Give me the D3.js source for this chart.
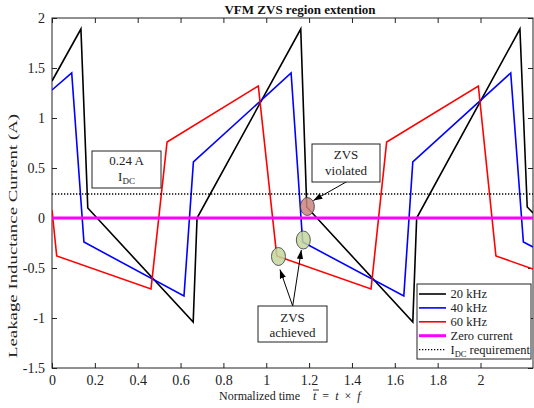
<!DOCTYPE html>
<html>
<head>
<meta charset="utf-8">
<script src="https://cdn.jsdelivr.net/npm/d3@7"></script>
<style>
  html, body { margin: 0; padding: 0; background: #fff; }
  svg { display: block; font-family: "Liberation Serif", "Times New Roman", serif; }
  svg text { font-family: "Liberation Serif", "Times New Roman", serif; }
</style>
</head>
<body>
<svg id="chart" width="534" height="408"></svg>
<script>
// ---- data ----
const xTicks = [0, 0.2, 0.4, 0.6, 0.8, 1, 1.2, 1.4, 1.6, 1.8, 2];
const xTickLabels = ["0", "0.2", "0.4", "0.6", "0.8", "1", "1.2", "1.4", "1.6", "1.8", "2"];
const yTicks = [-1.5, -1, -0.5, 0, 0.5, 1, 1.5, 2];
const yTickLabels = ["-1.5", "-1", "-0.5", "0", "0.5", "1", "1.5", "2"];

const t20 = [0, 0.135, 0.167, 0.659, 0.677, 1.161, 1.189, 1.684, 1.702, 2.184, 2.218, 2.245];
const i20 = [1.37, 1.89, 0.10, -1.04, 0.00, 1.89, 0.11, -1.04, 0.00, 1.89, 0.11, 0.05];

const t40 = [0, 0.092, 0.149, 0.616, 0.660, 1.116, 1.170, 1.642, 1.684, 2.141, 2.200, 2.245];
const i40 = [1.28, 1.45, -0.24, -0.78, 0.56, 1.45, -0.24, -0.78, 0.56, 1.45, -0.24, -0.29];

const t60 = [0, 0.022, 0.462, 0.537, 0.963, 1.049, 1.489, 1.562, 1.990, 2.072, 2.245];
const i60 = [0.08, -0.38, -0.71, 0.76, 1.32, -0.38, -0.71, 0.76, 1.32, -0.38, -0.51];

const zeroLevel = 0;
const idcLevel = 0.24;

const seriesNames = ["20 kHz", "40 kHz", "60 kHz", "Zero current", "I_DC requirement"];

// annotation markers (data coords)
const zvsAchieved = [[1.057, -0.385], [1.173, -0.22]];
const zvsViolated = [1.192, 0.115];

// ---- layout ----
const svg = d3.select("#chart");
const L = 52, R = 533, T = 18, B = 368;
const x = d3.scaleLinear().domain([0, 2.245]).range([L, R]);
const y = d3.scaleLinear().domain([-1.5, 2]).range([B, T]);

const defs = svg.append("defs");
defs.append("clipPath").attr("id", "clip")
  .append("rect").attr("x", L).attr("y", T).attr("width", R - L).attr("height", B - T);

// axes
const fs = "14px";
const xAxis = svg.append("g").attr("transform", `translate(0,${B})`)
  .call(d3.axisBottom(x).tickValues(xTicks).tickFormat((d, i) => xTickLabels[i]).tickSizeInner(-5).tickSizeOuter(0).tickPadding(7.5));
const yAxis = svg.append("g").attr("transform", `translate(${L},0)`)
  .call(d3.axisLeft(y).tickValues(yTicks).tickFormat((d, i) => yTickLabels[i]).tickSizeInner(-5).tickSizeOuter(0).tickPadding(7));
const xTop = svg.append("g").attr("transform", `translate(0,${T})`)
  .call(d3.axisTop(x).tickValues(xTicks).tickFormat("").tickSizeInner(-5).tickSizeOuter(0));
const yRight = svg.append("g").attr("transform", `translate(${R},0)`)
  .call(d3.axisRight(y).tickValues(yTicks).tickFormat("").tickSizeInner(-5).tickSizeOuter(0));
[xAxis, yAxis, xTop, yRight].forEach(g => {
  g.attr("font-family", null);
  g.select(".domain").remove();
  g.selectAll("line").attr("stroke", "#222");
  g.selectAll("text").attr("font-size", fs).attr("fill", "#222");
});
svg.append("rect").attr("x", L).attr("y", T).attr("width", R - L).attr("height", B - T)
  .attr("fill", "none").attr("stroke", "#222").attr("stroke-width", 1);

// lines
const line = d3.line().x(d => x(d[0])).y(d => y(d[1]));
const plot = svg.append("g").attr("clip-path", "url(#clip)");
const series = [
  { t: t20, v: i20, color: "#000000" },
  { t: t40, v: i40, color: "#0000ff" },
  { t: t60, v: i60, color: "#ff0000" }
];
series.forEach(s => {
  plot.append("path").datum(s.t.map((tt, i) => [tt, s.v[i]]))
    .attr("d", line).attr("fill", "none").attr("stroke", s.color).attr("stroke-width", 1.6)
    .attr("stroke-linejoin", "miter");
});
plot.append("path").datum([[0, zeroLevel], [2.245, zeroLevel]]).attr("d", line)
  .attr("stroke", "#ff00ff").attr("stroke-width", 3).attr("fill", "none");
plot.append("path").datum([[0, idcLevel], [2.245, idcLevel]]).attr("d", line)
  .attr("stroke", "#000").attr("stroke-width", 1.3).attr("stroke-dasharray", "1.3,1.7").attr("fill", "none");

// markers
zvsAchieved.forEach(p => {
  svg.append("ellipse").attr("cx", x(p[0])).attr("cy", y(p[1])).attr("rx", 7).attr("ry", 9)
    .attr("fill", "#c3d69b").attr("fill-opacity", 0.85).attr("stroke", "#333").attr("stroke-width", 0.8);
});
svg.append("ellipse").attr("cx", x(zvsViolated[0])).attr("cy", y(zvsViolated[1])).attr("rx", 7).attr("ry", 9)
  .attr("fill", "#c9857c").attr("fill-opacity", 0.85).attr("stroke", "#333").attr("stroke-width", 0.8);

// arrow marker
defs.append("marker").attr("id", "arr").attr("viewBox", "0 0 10 10")
  .attr("refX", 10).attr("refY", 5).attr("markerWidth", 9).attr("markerHeight", 9)
  .attr("markerUnits", "userSpaceOnUse").attr("orient", "auto")
  .append("path").attr("d", "M0,1.5 L10,5 L0,8.5 Z").attr("fill", "#000");

function arrow(x1, y1, x2, y2) {
  svg.append("line").attr("x1", x1).attr("y1", y1).attr("x2", x2).attr("y2", y2)
    .attr("stroke", "#000").attr("stroke-width", 1).attr("marker-end", "url(#arr)");
}
function box(x0, y0, w, h, lines) {
  svg.append("rect").attr("x", x0).attr("y", y0).attr("width", w).attr("height", h)
    .attr("fill", "#fff").attr("stroke", "#222").attr("stroke-width", 1);
  lines.forEach(l => {
    const t = svg.append("text").attr("x", x0 + w / 2).attr("y", l.y).attr("text-anchor", "middle")
      .attr("font-size", "13px").attr("fill", "#222");
    if (l.sub) {
      t.append("tspan").text(l.text);
      t.append("tspan").attr("font-size", "9px").attr("dy", 3).text(l.sub);
    } else t.text(l.text);
  });
}
// 0.24 A box
box(92, 151, 69, 37, [{ text: "0.24 A", y: 165 }, { text: "I", sub: "DC", y: 181 }]);
// ZVS violated
arrow(347, 181.5, x(zvsViolated[0]) + 6, y(zvsViolated[1]) - 6);
box(312, 144, 68, 38, [{ text: "ZVS", y: 159 }, { text: "violated", y: 175 }]);
// ZVS achieved
arrow(292.7, 306, x(zvsAchieved[0][0]) + 1.5, y(zvsAchieved[0][1]) + 13);
arrow(292.7, 306, x(zvsAchieved[1][0]) - 2, y(zvsAchieved[1][1]) + 10);
box(258, 306, 69, 36, [{ text: "ZVS", y: 321.5 }, { text: "achieved", y: 337 }]);

// legend
const lg = svg.append("g");
lg.append("rect").attr("x", 417).attr("y", 284).attr("width", 114).attr("height", 75)
  .attr("fill", "#fff").attr("stroke", "#222").attr("stroke-width", 1);
const legendItems = [
  { color: "#000", w: 1.6, dash: null },
  { color: "#0000ff", w: 1.6, dash: null },
  { color: "#ff0000", w: 1.6, dash: null },
  { color: "#ff00ff", w: 3, dash: null },
  { color: "#000", w: 1.2, dash: "1.3,1.7" }
];
legendItems.forEach((it, i) => {
  const yy = 294 + i * 13.9;
  lg.append("line").attr("x1", 419).attr("x2", 446).attr("y1", yy).attr("y2", yy)
    .attr("stroke", it.color).attr("stroke-width", it.w).attr("stroke-dasharray", it.dash);
  const name = seriesNames[i];
  const t = lg.append("text").attr("x", 450.5).attr("y", yy + 4).attr("font-size", "12.5px").attr("fill", "#222");
  if (name.includes("_")) {
    const [a, rest] = name.split("_");
    const parts = rest.split(" ");
    t.append("tspan").text(a);
    t.append("tspan").attr("font-size", "8.5px").attr("dy", 3).text(parts[0]);
    t.append("tspan").attr("dy", -3).text(" " + parts.slice(1).join(" "));
  } else t.text(name);
});

// title and labels
svg.append("text").attr("x", 300).attr("y", 14).attr("text-anchor", "middle")
  .attr("font-size", "13px").attr("font-weight", "bold").attr("fill", "#111").text("VFM ZVS region extention");

svg.append("text").attr("x", 219).attr("y", 400).attr("font-size", "12px").attr("fill", "#222").text("Normalized time");
const fx = svg.append("text").attr("x", 313).attr("y", 400).attr("font-size", "12px").attr("fill", "#222")
  .attr("xml:space", "preserve");
fx.append("tspan").attr("font-style", "italic").text("t");
fx.append("tspan").text("  =  ");
fx.append("tspan").attr("font-style", "italic").text("t");
fx.append("tspan").text("  ×  ");
fx.append("tspan").attr("font-style", "italic").text("f");
svg.append("line").attr("x1", 313).attr("x2", 319).attr("y1", 390).attr("y2", 390).attr("stroke", "#222").attr("stroke-width", 0.9);

svg.append("text").attr("transform", "translate(17,236) rotate(-90) scale(1.57,1)").attr("text-anchor", "middle")
  .attr("font-size", "12px").attr("fill", "#222").text("Leakage Inductance Current (A)");
</script>
</body>
</html>
